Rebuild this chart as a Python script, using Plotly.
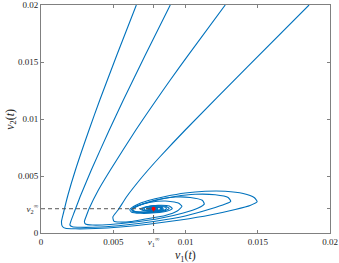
import plotly.graph_objects as go

# Equilibrium
v1_inf = 0.00779
v2_inf = 0.00213

# Trajectories (in units of 1e-3)
t1_v1 = [6.598, 5.25, 4.069, 3.323, 2.383, 1.865, 1.554, 1.416, 1.485, 1.693, 2.383, 3.765, 5.492, 7.565, 9.637, 11.71, 13.44, 14.47, 14.96, 14.75, 13.99, 12.75, 11.36, 9.983, 8.601, 7.427, 6.598, 6.149, 6.252, 6.874, 7.91, 8.739, 9.085, 8.877, 8.117, 7.288, 6.874, 7.150, 7.91, 8.463, 8.394, 7.772, 7.323, 7.565, 8.048, 8.048, 7.793]
t1_v2 = [20.0, 15.61, 11.67, 9.035, 5.526, 3.333, 1.754, 0.965, 0.570, 0.412, 0.368, 0.395, 0.526, 0.789, 1.14, 1.579, 2.061, 2.412, 2.746, 3.114, 3.465, 3.658, 3.658, 3.509, 3.202, 2.851, 2.456, 2.061, 1.842, 1.728, 1.772, 1.93, 2.149, 2.368, 2.43, 2.298, 2.105, 1.947, 1.93, 2.061, 2.237, 2.281, 2.149, 2.018, 2.061, 2.193, 2.13]

t2_v1 = [8.946, 7.219, 5.699, 4.725, 3.482, 2.756, 2.307, 2.073, 2.0, 2.176, 2.729, 4.111, 5.838, 7.91, 9.983, 11.71, 12.75, 13.13, 12.95, 12.06, 10.67, 9.292, 7.91, 6.874, 6.287, 6.39, 7.081, 8.117, 8.670, 8.877, 8.601, 7.91, 7.254, 7.012, 7.357, 8.048, 8.394, 8.187, 7.634, 7.427, 7.772, 8.048, 7.793]
t2_v2 = [20.0, 15.61, 11.67, 9.035, 5.526, 3.333, 1.842, 1.053, 0.702, 0.544, 0.50, 0.526, 0.702, 1.026, 1.491, 2.105, 2.544, 2.781, 3.114, 3.351, 3.395, 3.202, 2.851, 2.456, 2.061, 1.868, 1.798, 1.842, 1.991, 2.167, 2.342, 2.386, 2.254, 2.079, 1.947, 1.974, 2.105, 2.237, 2.237, 2.105, 2.035, 2.105, 2.13]

t3_v1 = [12.75, 10.19, 8.946, 7.979, 6.563, 4.801, 3.972, 3.351, 3.109, 3.005, 3.074, 3.558, 4.801, 6.528, 8.256, 9.845, 10.88, 11.30, 11.16, 10.33, 9.292, 8.256, 7.288, 6.598, 6.356, 6.528, 7.288, 8.117, 8.601, 8.67, 8.256, 7.565, 7.15, 7.185, 7.703, 8.256, 8.256, 7.772, 7.495, 7.793]
t3_v2 = [20.0, 15.61, 13.42, 11.67, 9.035, 5.526, 3.772, 2.193, 1.404, 1.009, 0.789, 0.702, 0.746, 0.965, 1.289, 1.754, 2.193, 2.544, 2.868, 3.114, 3.158, 2.982, 2.649, 2.325, 2.061, 1.886, 1.825, 1.886, 2.035, 2.211, 2.351, 2.342, 2.193, 2.018, 1.947, 2.061, 2.211, 2.237, 2.13, 2.13]

t4_v1 = [18.55, 14.27, 9.983, 8.221, 7.413, 6.826, 5.962, 5.333, 4.974, 5.04, 5.45, 6.2, 7.219, 8.601, 9.430, 9.755, 9.499, 8.601, 7.565, 6.736, 6.252, 6.459, 7.219, 7.979, 8.394, 8.325, 7.841, 7.357, 7.323, 7.703, 8.083, 7.979, 7.703, 7.793]
t4_v2 = [20.0, 14.56, 9.035, 6.667, 5.526, 4.649, 3.246, 2.018, 1.404, 1.05, 0.96, 1.0, 1.228, 1.535, 1.93, 2.342, 2.632, 2.807, 2.693, 2.412, 2.079, 1.886, 1.842, 1.912, 2.079, 2.237, 2.298, 2.211, 2.061, 1.991, 2.079, 2.193, 2.175, 2.13]

trajectories = [(t1_v1, t1_v2), (t2_v1, t2_v2), (t3_v1, t3_v2), (t4_v1, t4_v2)]

x_tickvals = [0, 0.005, v1_inf, 0.01, 0.015, 0.02]
x_ticktext = ["0", "0.005", "<i>v</i><sub>1</sub><sup>∞</sup>", "0.01", "0.015", "0.02"]
y_tickvals = [0, v2_inf, 0.005, 0.01, 0.015, 0.02]
y_ticktext = ["0", "<i>v</i><sub>2</sub><sup>∞</sup>", "0.005", "0.01", "0.015", "0.02"]

BLUE = "#0072BD"
SERIF = "Liberation Serif"
fig = go.Figure()

for xs, ys in trajectories:
    fig.add_trace(go.Scatter(
        x=[v * 1e-3 for v in xs], y=[v * 1e-3 for v in ys],
        mode="lines", line=dict(color=BLUE, width=1.1, shape="spline", smoothing=0.55),
        showlegend=False, hoverinfo="skip"))

# dashed guide lines
fig.add_trace(go.Scatter(x=[0, v1_inf], y=[v2_inf, v2_inf], mode="lines",
                         line=dict(color="#555555", width=1, dash="4px,3px"),
                         showlegend=False, hoverinfo="skip"))
fig.add_trace(go.Scatter(x=[v1_inf, v1_inf], y=[0, v2_inf], mode="lines",
                         line=dict(color="#555555", width=1, dash="4px,3px"),
                         showlegend=False, hoverinfo="skip"))
fig.add_trace(go.Scatter(x=[v1_inf], y=[v2_inf], mode="markers",
                         marker=dict(color="red", size=4),
                         showlegend=False, hoverinfo="skip"))

axis_common = dict(
    showgrid=False, zeroline=False, showline=True, linecolor="#808080", linewidth=1,
    mirror="ticks", ticks="inside", ticklen=3, tickcolor="#808080", automargin=False,
    tickfont=dict(family=SERIF, size=9, color="#262626"),
)

fig.update_layout(
    width=339, height=263,
    margin=dict(l=41, r=9, t=5, b=30, autoexpand=False),
    paper_bgcolor="white", plot_bgcolor="white",
    xaxis=dict(range=[0, 0.02], tickvals=x_tickvals, ticktext=x_ticktext, **axis_common),
    yaxis=dict(range=[0, 0.02], tickvals=y_tickvals, ticktext=y_ticktext, **axis_common),
    annotations=[
        dict(text="<i>v</i><sub>1</sub>(<i>t</i>)", xref="paper", yref="paper",
             x=0.5, y=-0.055, xanchor="center", yanchor="top", showarrow=False,
             font=dict(family=SERIF, size=12, color="#262626")),
        dict(text="<i>v</i><sub>2</sub>(<i>t</i>)", xref="paper", yref="paper",
             x=-0.07, y=0.5, xanchor="right", yanchor="middle", textangle=-90,
             showarrow=False, font=dict(family=SERIF, size=12, color="#262626")),
    ],
)

fig.write_html("out.html", config={"displayModeBar": False},
               post_script="document.body.style.margin='0';")
